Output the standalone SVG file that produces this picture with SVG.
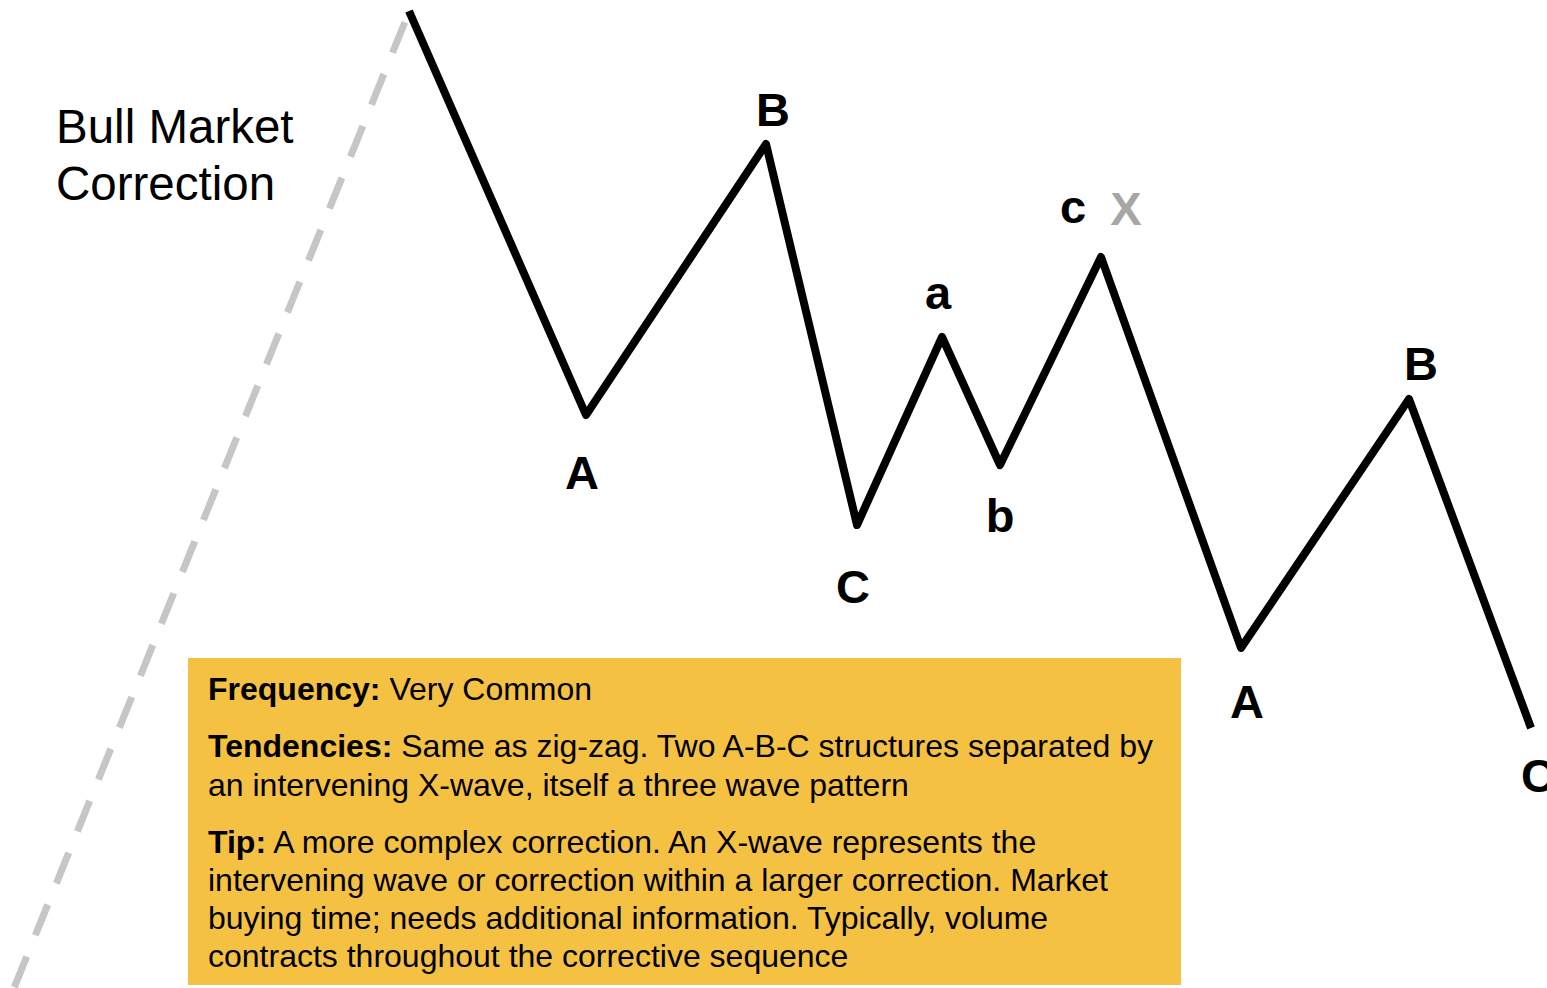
<svg xmlns="http://www.w3.org/2000/svg" width="1547" height="988" viewBox="0 0 1547 988">
<style>
.wave{fill:none;stroke:#000;stroke-width:8;stroke-linejoin:round;stroke-linecap:butt}
.dash{fill:none;stroke:#C6C6C6;stroke-width:7;stroke-dasharray:33 23;stroke-dashoffset:45}
.lbl{font-family:"Liberation Sans",Arial,sans-serif;font-weight:bold;font-size:47px;text-anchor:middle;fill:#000}
.title{font-family:"Liberation Sans",Arial,sans-serif;font-size:47.5px;fill:#000}
.box{font-family:"Liberation Sans",Arial,sans-serif;font-size:32px;fill:#000}
.b{font-weight:bold}
</style>
<rect width="1547" height="988" fill="#fff"/>
<g id="connectors">
<line class="dash" x1="409" y1="12" x2="14" y2="988"/>
<polyline class="wave" points="409,11 586,415 766,144 857,525 942,337 1000,465 1101,257 1241,648 1409,399 1531,728"/>
</g>
<g id="title">
<text class="title" x="56" y="143">Bull Market</text>
<text class="title" x="56" y="200">Correction</text>
</g>
<g id="labels">
<text class="lbl" x="582" y="489">A</text>
<text class="lbl" x="773" y="126">B</text>
<text class="lbl" x="853" y="603">C</text>
<text class="lbl" x="938" y="309">a</text>
<text class="lbl" x="1000" y="532">b</text>
<text class="lbl" x="1073" y="223">c</text>
<text class="lbl" x="1126" y="225" style="fill:#A6A6A6">X</text>
<text class="lbl" x="1247" y="718">A</text>
<text class="lbl" x="1421" y="380">B</text>
<text class="lbl" x="1538" y="792">C</text>
</g>
<g id="infobox">
<rect x="188" y="658" width="993" height="327" fill="#F4C143"/>
<text class="box" x="208" y="700"><tspan class="b">Frequency:</tspan> Very Common</text>
<text class="box" x="208" y="757"><tspan class="b">Tendencies:</tspan> Same as zig-zag. Two A-B-C structures separated by</text>
<text class="box" x="208" y="796">an intervening X-wave, itself a three wave pattern</text>
<text class="box" x="208" y="853"><tspan class="b">Tip:</tspan> A more complex correction. An X-wave represents the</text>
<text class="box" x="208" y="891">intervening wave or correction within a larger correction. Market</text>
<text class="box" x="208" y="929">buying time; needs additional information. Typically, volume</text>
<text class="box" x="208" y="967">contracts throughout the corrective sequence</text>
</g>
</svg>
